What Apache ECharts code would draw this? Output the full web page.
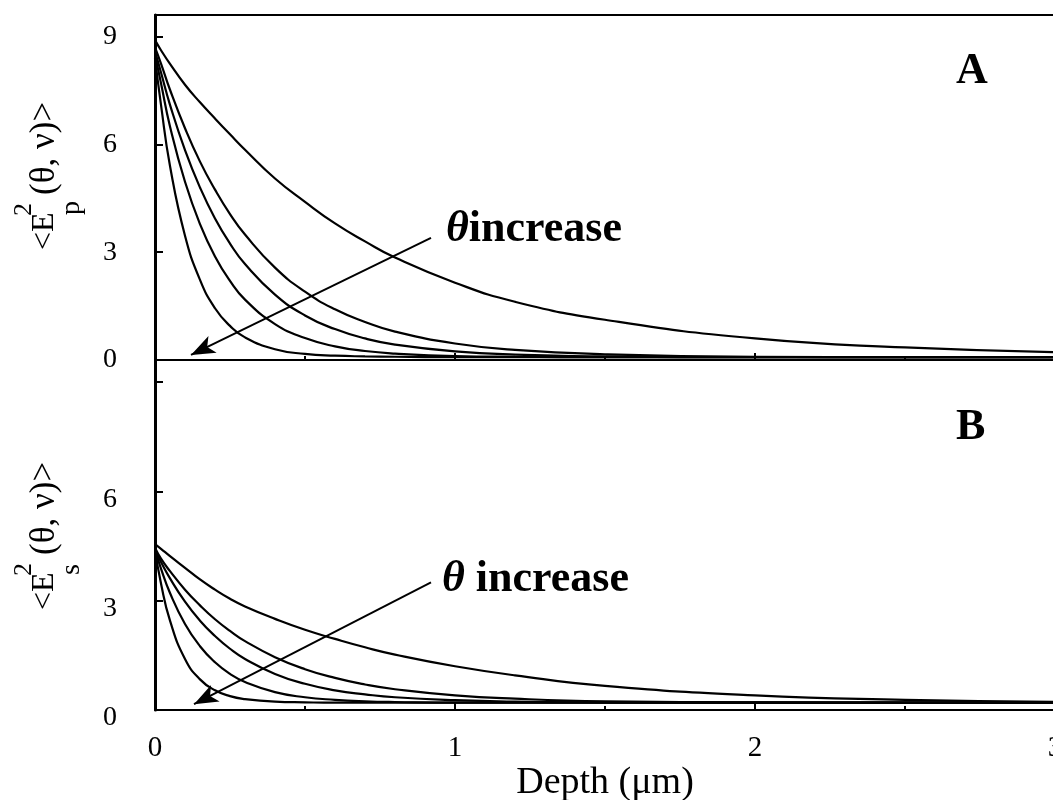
<!DOCTYPE html>
<html>
<head>
<meta charset="utf-8">
<script src="https://cdn.jsdelivr.net/npm/echarts@6/dist/echarts.min.js"></script>
<style>
  body { margin: 0; background: #fff; }
  #myChart { width: 1053px; height: 800px; }
</style>
</head>
<body>
<div id="myChart"></div>
<script>
// depth (um) sample points
var depth = [0, 0.02, 0.05, 0.1, 0.15, 0.2, 0.25, 0.3, 0.4, 0.5, 0.6, 0.7, 0.8, 1.0, 1.2, 1.5, 2.0, 2.5, 3.0];

// panel A: <Ep^2>, theta increasing from p5 to p1
var p1 = [8.4, 7.1, 5.4, 3.46, 2.23, 1.44, 0.95, 0.63, 0.30, 0.17, 0.12, 0.10, 0.09, 0.08, 0.08, 0.08, 0.08, 0.08, 0.08];
var p2 = [8.5, 7.7, 6.5, 4.96, 3.78, 2.88, 2.2, 1.68, 1.0, 0.61, 0.38, 0.25, 0.18, 0.11, 0.09, 0.08, 0.08, 0.08, 0.08];
var p3 = [8.6, 8.0, 7.1, 5.84, 4.8, 3.94, 3.24, 2.67, 1.82, 1.24, 0.86, 0.6, 0.43, 0.24, 0.15, 0.1, 0.08, 0.08, 0.08];
var p4 = [8.7, 8.25, 7.52, 6.45, 5.52, 4.74, 4.06, 3.49, 2.57, 1.9, 1.41, 1.06, 0.79, 0.46, 0.28, 0.16, 0.09, 0.08, 0.08];
var p5 = [8.9, 8.62, 8.24, 7.66, 7.17, 6.72, 6.28, 5.85, 5.05, 4.4, 3.8, 3.3, 2.85, 2.15, 1.62, 1.12, 0.6, 0.35, 0.22];

// panel B: <Es^2>
var s1 = [4.4, 3.47, 2.45, 1.4, 0.84, 0.54, 0.38, 0.3, 0.23, 0.21, 0.2, 0.2, 0.2, 0.2, 0.2, 0.2, 0.2, 0.2, 0.2];
var s2 = [4.4, 3.88, 3.21, 2.36, 1.75, 1.31, 0.99, 0.77, 0.49, 0.35, 0.28, 0.24, 0.22, 0.2, 0.2, 0.2, 0.2, 0.2, 0.2];
var s3 = [4.4, 4.06, 3.61, 2.97, 2.45, 2.03, 1.68, 1.4, 0.99, 0.72, 0.54, 0.43, 0.35, 0.27, 0.23, 0.21, 0.2, 0.2, 0.2];
var s4 = [4.45, 4.15, 3.81, 3.3, 2.87, 2.49, 2.17, 1.89, 1.45, 1.12, 0.88, 0.7, 0.57, 0.4, 0.31, 0.24, 0.21, 0.2, 0.2];
var s5 = [4.55, 4.42, 4.22, 3.9, 3.58, 3.3, 3.05, 2.84, 2.5, 2.2, 1.95, 1.72, 1.52, 1.2, 0.95, 0.66, 0.4, 0.28, 0.22];

// "theta increase" arrows, [tail, head] in data units
var arrowA = [[0.92, 3.4], [0.12, 0.14]];
var arrowB = [[0.92, 3.5], [0.13, 0.16]];

var xTicks = [0, 1, 2, 3];
var yTicks = [0, 3, 6, 9];

var serif = '"Liberation Serif", "Times New Roman", serif';

function pairs(ys) {
  var out = [];
  for (var i = 0; i < depth.length; i++) out.push([depth[i], ys[i]]);
  return out;
}

function curve(ys, grid, arrow) {
  var s = {
    type: "line",
    xAxisIndex: grid === 0 ? 0 : 2,
    yAxisIndex: grid,
    data: pairs(ys),
    smooth: true,
    showSymbol: false,
    lineStyle: { color: "#000", width: 2.2 },
    silent: true
  };
  if (arrow) {
    s.markLine = {
      silent: true,
      animation: false,
      symbol: ["none", "arrow"],
      symbolSize: [14, 24],
      label: { show: false },
      lineStyle: { color: "#000", width: 2, type: "solid" },
      data: [[{ coord: arrow[0] }, { coord: arrow[1] }]]
    };
  }
  return s;
}

function yTitle(sub, x, y) {
  var f = function (size) { return size + "px " + serif; };
  return {
    type: "group", x: x, y: y, rotation: Math.PI / 2,
    children: [
      { type: "text", x: 0, y: 0, style: { text: "<E", font: f(32), fill: "#000", verticalAlign: "middle" } },
      { type: "text", x: 34, y: -21, style: { text: "2", font: f(26), fill: "#000", verticalAlign: "middle" } },
      { type: "text", x: 35, y: 27, style: { text: sub, font: f(28), fill: "#000", verticalAlign: "middle" } },
      { type: "text", x: 55, y: 0, style: { text: "(\u03b8, \u03bd)>", font: f(35), fill: "#000", verticalAlign: "middle" } }
    ]
  };
}

function note(x, y, gap) {
  return {
    type: "text", x: x, y: y,
    style: {
      text: "{t|\u03b8}" + gap + "{b|increase}",
      verticalAlign: "middle",
      fill: "#000",
      font: "bold 44px " + serif,
      rich: {
        t: { fontStyle: "italic", fontWeight: "bold", fontSize: 44, fontFamily: serif },
        b: { fontWeight: "bold", fontSize: 44, fontFamily: serif }
      }
    }
  };
}

function xAxisBase(idx, labels) {
  return {
    type: "value", gridIndex: idx, min: 0, max: 3, interval: 1,
    axisLine: { show: true, lineStyle: { color: "#000", width: 2 } },
    axisTick: { show: true, inside: true, length: 7, lineStyle: { color: "#000", width: 2 } },
    minorTick: { show: true, splitNumber: 2, length: 4, lineStyle: { color: "#000", width: 2 } },
    axisLabel: { show: labels, color: "#000", fontFamily: serif, fontSize: 29, margin: 24 },
    splitLine: { show: false }
  };
}

function yAxisBase(idx) {
  var label = {
    color: "#000", fontFamily: serif, fontSize: 28, margin: 38,
    formatter: function (v) {
      if (idx === 1 && v === 9) return "";
      return yTicks.indexOf(v) >= 0 ? String(v) : "";
    }
  };
  if (idx === 1) {
    label.verticalAlign = "top";
    label.lineHeight = 16;
  }
  return {
    type: "value", gridIndex: idx, min: 0, max: 9.6, interval: 3,
    axisLine: { show: true, lineStyle: { color: "#000", width: 3 } },
    axisTick: { show: true, inside: true, length: 8, lineStyle: { color: "#000", width: 2 } },
    axisLabel: label,
    splitLine: { show: false }
  };
}

var xBottom = xAxisBase(1, true);
xBottom.name = "Depth (\u03bcm)";
xBottom.nameLocation = "middle";
xBottom.nameGap = 47;
xBottom.nameTextStyle = { color: "#000", fontFamily: serif, fontSize: 38 };
xBottom.axisLabel.formatter = function (v) { return xTicks.indexOf(v) >= 0 ? String(v) : ""; };

var xTop = {
  type: "value", gridIndex: 0, position: "top", min: 0, max: 3,
  axisLine: { show: true, lineStyle: { color: "#000", width: 2 } },
  axisTick: { show: false }, axisLabel: { show: false }, splitLine: { show: false }
};

var option = {
  animation: false,
  backgroundColor: "#fff",
  grid: [
    { left: 155, width: 900, top: 15, height: 345, outerBoundsMode: "none", containLabel: false },
    { left: 155, width: 900, top: 360, height: 350, outerBoundsMode: "none", containLabel: false }
  ],
  xAxis: [xAxisBase(0, false), xTop, xBottom],
  yAxis: [yAxisBase(0), yAxisBase(1)],
  series: [
    curve(p1, 0), curve(p2, 0), curve(p3, 0), curve(p4, 0), curve(p5, 0, arrowA),
    curve(s1, 1), curve(s2, 1), curve(s3, 1), curve(s4, 1), curve(s5, 1, arrowB)
  ],
  graphic: [
    yTitle("p", 45, 250),
    yTitle("s", 45, 610),
    note(446, 230, ""),
    note(442, 580, " "),
    { type: "text", x: 956, y: 72, style: { text: "A", font: "bold 44px " + serif, fill: "#000", verticalAlign: "middle" } },
    { type: "text", x: 956, y: 428, style: { text: "B", font: "bold 44px " + serif, fill: "#000", verticalAlign: "middle" } }
  ]
};

var myChart = echarts.init(document.getElementById("myChart"));
myChart.setOption(option);
</script>
</body>
</html>
